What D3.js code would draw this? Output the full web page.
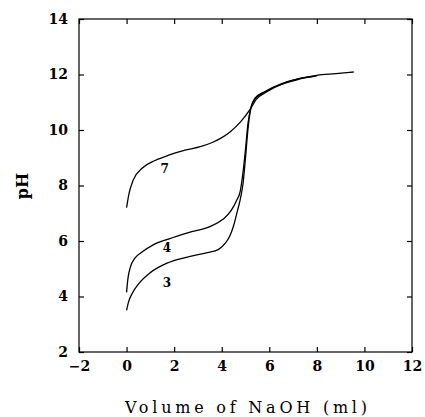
<!DOCTYPE html>
<html>
<head>
<meta charset="utf-8">
<title>pH titration curves</title>
<script src="https://d3js.org/d3.v7.min.js"></script>
<style>
  body { margin: 0; background: #fff; }
  text { font-family: "DejaVu Serif", "Liberation Serif", serif; fill: #000; }
</style>
</head>
<body>
<svg width="425" height="417"></svg>
<script>
// titration data (volume of NaOH in ml, pH)
var vol7 = [0, 0.1, 0.28, 0.65, 1.2, 1.8, 2.5, 3.1, 3.6, 3.95, 4.35, 4.8, 5.2, 5.45, 5.9, 6.6, 7.3, 8.0, 8.8, 9.55];
var ph7  = [7.2, 7.7, 8.2, 8.62, 8.9, 9.1, 9.28, 9.4, 9.55, 9.7, 9.93, 10.3, 10.75, 11.1, 11.38, 11.68, 11.86, 11.97, 12.03, 12.09];

var vol4 = [0, 0.05, 0.16, 0.35, 0.65, 1.1, 1.8, 2.6, 3.5, 4.05, 4.4, 4.62, 4.78, 4.9, 5.0, 5.1, 5.22, 5.4, 5.8, 6.5, 7.2, 8.0];
var ph4  = [4.15, 4.6, 5.06, 5.38, 5.6, 5.85, 6.08, 6.3, 6.52, 6.78, 7.1, 7.45, 7.8, 8.5, 9.3, 10.2, 10.8, 11.15, 11.38, 11.66, 11.84, 11.95];

var vol3 = [0, 0.08, 0.23, 0.55, 1.0, 1.7, 2.55, 3.4, 3.87, 4.15, 4.35, 4.5, 4.65, 4.78, 4.9, 5.0, 5.1, 5.22, 5.4, 5.8, 6.5, 7.2, 7.9];
var ph3  = [3.5, 3.8, 4.1, 4.5, 4.86, 5.2, 5.42, 5.58, 5.7, 5.92, 6.2, 6.55, 7.05, 7.5, 8.1, 9.0, 10.0, 10.75, 11.12, 11.36, 11.64, 11.82, 11.93];

var curveNames = ["7", "4", "3"];
var labelPos = [[1.6, 8.6], [1.7, 5.75], [1.7, 4.5]];  // where the curve numbers sit (data units)

var xTicks = [-2, 0, 2, 4, 6, 8, 10, 12];
var yTicks = [2, 4, 6, 8, 10, 12, 14];

var width = 425, height = 417;
var margin = { left: 79, right: 13, top: 19, bottom: 65 };

var svg = d3.select("svg");

var x = d3.scaleLinear().domain([-2, 12]).range([margin.left, width - margin.right]);
var y = d3.scaleLinear().domain([2, 14]).range([height - margin.bottom, margin.top]);

// frame
svg.append("rect")
  .attr("x", x(-2)).attr("y", y(14))
  .attr("width", x(12) - x(-2)).attr("height", y(2) - y(14))
  .attr("fill", "none").attr("stroke", "#000").attr("stroke-width", 1.2);

function fmt(d) { return d < 0 ? "\u2212" + Math.abs(d) : String(d); }

// bottom and left axes, ticks pointing inward
var gx = svg.append("g")
  .attr("transform", "translate(0," + y(2) + ")")
  .call(d3.axisBottom(x).tickValues(xTicks).tickSize(-5).tickPadding(9).tickFormat(fmt));
var gy = svg.append("g")
  .attr("transform", "translate(" + x(-2) + ",0)")
  .call(d3.axisLeft(y).tickValues(yTicks).tickSize(-5).tickPadding(11).tickFormat(fmt));

// top and right ticks without labels
svg.append("g")
  .attr("transform", "translate(0," + y(14) + ")")
  .call(d3.axisTop(x).tickValues(xTicks).tickSize(-5).tickFormat(""));
svg.append("g")
  .attr("transform", "translate(" + x(12) + ",0)")
  .call(d3.axisRight(y).tickValues(yTicks).tickSize(-5).tickFormat(""));

svg.selectAll(".domain").remove();
svg.selectAll(".tick line").attr("stroke", "#000").attr("stroke-width", 1.2);
svg.selectAll(".tick text")
  .style("font-family", "'DejaVu Serif', serif")
  .style("font-size", "14px")
  .style("font-weight", "bold");

// axis titles
svg.append("text")
  .attr("x", 246).attr("y", 413)
  .attr("text-anchor", "middle")
  .attr("textLength", 242).attr("lengthAdjust", "spacing")
  .style("font-size", "16px")
  .text("Volume of NaOH (ml)");

svg.append("text")
  .attr("transform", "translate(28,186) rotate(-90)")
  .attr("text-anchor", "middle")
  .style("font-size", "16px")
  .style("font-weight", "bold")
  .text("pH");

// curves
var series = [[vol7, ph7], [vol4, ph4], [vol3, ph3]];
var line = d3.line()
  .x(function (d) { return x(d[0]); })
  .y(function (d) { return y(d[1]); })
  .curve(d3.curveMonotoneX);

series.forEach(function (s) {
  var pts = s[0].map(function (v, i) { return [v, s[1][i]]; });
  svg.append("path")
    .datum(pts)
    .attr("d", line)
    .attr("fill", "none")
    .attr("stroke", "#000")
    .attr("stroke-width", 1.3);
});

// curve numbers
svg.selectAll(".lbl")
  .data(curveNames)
  .enter()
  .append("text")
  .attr("class", "lbl")
  .attr("x", function (d, i) { return x(labelPos[i][0]); })
  .attr("y", function (d, i) { return y(labelPos[i][1]); })
  .attr("dy", "0.35em")
  .attr("text-anchor", "middle")
  .style("font-size", "12px")
  .style("font-weight", "bold")
  .text(function (d) { return d; });
</script>
</body>
</html>
